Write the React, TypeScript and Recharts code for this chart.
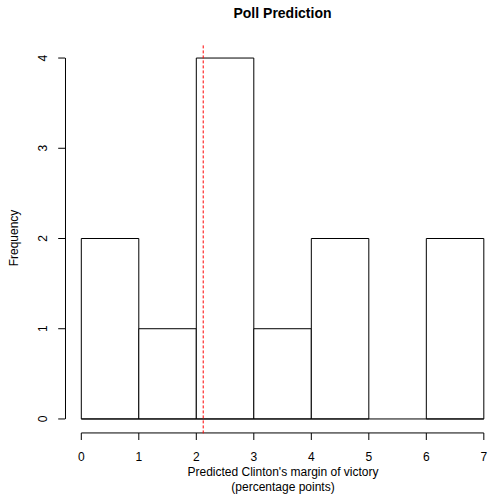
import { ComposedChart, Bar, XAxis, YAxis, ReferenceLine } from "recharts"

// bin midpoints, counts and axis ticks
const binMids = [0.5, 1.5, 2.5, 3.5, 4.5, 5.5, 6.5]
const counts = [2, 1, 4, 1, 2, 0, 2]
const xTicks = [0, 1, 2, 3, 4, 5, 6, 7]
const yTicks = [0, 1, 2, 3, 4]
const meanMargin = 2.12

const data = binMids.map((mid, i) => ({ mid, count: counts[i] }))

const font = "'Liberation Sans', Arial, Helvetica, sans-serif"

const XTick = ({ x, y, payload }: any) => (
  <g>
    <line x1={x} y1={y - 0.4} x2={x} y2={y + 6.6} stroke="#000" />
    <text x={x} y={y + 27.5} textAnchor="middle" fontSize={12} fontFamily={font} fill="#000">
      {payload.value}
    </text>
  </g>
)

const YTick = ({ x, y, payload }: any) => (
  <g>
    <line x1={x - 7} y1={y} x2={x} y2={y} stroke="#000" />
    <text
      x={x - 18}
      y={y}
      transform={`rotate(-90 ${x - 18} ${y})`}
      textAnchor="middle"
      fontSize={12}
      fontFamily={font}
      fill="#000"
    >
      {payload.value}
    </text>
  </g>
)

export default function App() {
  return (
    <div style={{ position: "absolute", left: 0, top: 0, width: 489, height: 495, background: "#fff", fontFamily: font }}>
      <ComposedChart
        width={489}
        height={495}
        data={data}
        margin={{ top: 43.6, right: 0, left: 0, bottom: 0 }}
      >
        <XAxis
          dataKey="mid"
          type="number"
          domain={[-0.28, 7.09]}
          allowDataOverflow
          ticks={xTicks}
          interval={0}
          height={61.6}
          axisLine={false}
          tickLine={false}
          tickSize={0}
          tickMargin={0}
          tick={<XTick />}
        />
        <YAxis
          type="number"
          domain={[-0.16, 4.16]}
          allowDataOverflow
          ticks={yTicks}
          interval={0}
          width={65.2}
          axisLine={false}
          tickLine={false}
          tickSize={0}
          tickMargin={0}
          tick={<YTick />}
        />
        <Bar
          dataKey="count"
          barSize={57.5}
          fill="#fff"
          stroke="#000"
          strokeWidth={1}
          isAnimationActive={false}
        />
        {/* baseline of the bars, including the empty bin */}
        <ReferenceLine
          segment={[{ x: 0, y: 0 }, { x: 7, y: 0 }]}
          stroke="#000"
          ifOverflow="visible"
        />
        {/* offset axis lines, R style */}
        <ReferenceLine
          segment={[{ x: 0, y: -0.155 }, { x: 7, y: -0.155 }]}
          stroke="#000"
          ifOverflow="visible"
        />
        <ReferenceLine
          segment={[{ x: -0.275, y: 0 }, { x: -0.275, y: 4 }]}
          stroke="#000"
          ifOverflow="visible"
        />
        <ReferenceLine
          x={meanMargin}
          stroke="red"
          strokeDasharray="3 2"
          ifOverflow="visible"
        />
      </ComposedChart>
      <div style={{ position: "absolute", left: 0, width: 565, top: 5, textAlign: "center", fontWeight: "bold", fontSize: 14 }}>
        Poll Prediction
      </div>
      <div style={{ position: "absolute", left: 0, width: 566, top: 465, textAlign: "center", fontSize: 12, lineHeight: "15px" }}>
        Predicted Clinton's margin of victory
        <br />
        (percentage points)
      </div>
      <div
        style={{
          position: "absolute",
          left: 14,
          top: 238,
          fontSize: 12,
          transform: "translate(-50%, -50%) rotate(-90deg)",
          whiteSpace: "nowrap",
        }}
      >
        Frequency
      </div>
    </div>
  )
}
